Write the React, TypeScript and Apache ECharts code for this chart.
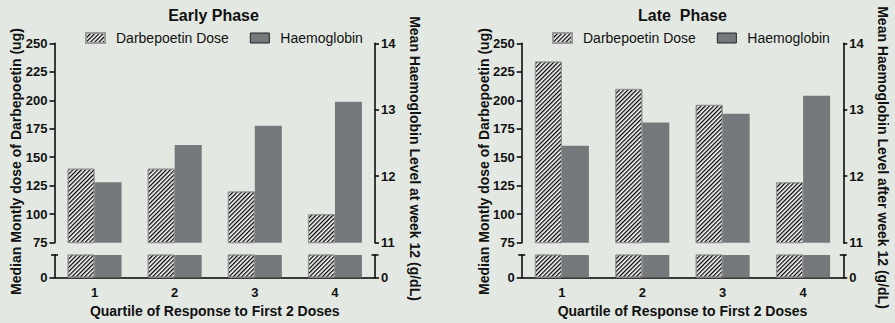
import React, { useEffect, useRef } from "react";
import * as echarts from "echarts";

const categories = ["1", "2", "3", "4"];
const earlyDose = [140, 140, 120, 100];
const earlyHb = [11.91, 12.47, 12.76, 13.12];
const lateDose = [234, 210, 196, 128];
const lateHb = [12.46, 12.81, 12.94, 13.21];
const doseTicks = { min: 75, max: 250, interval: 25 };
const hbTicks = { min: 11, max: 14, interval: 1 };

const FONT = "'Liberation Sans', Arial, Helvetica, sans-serif";
const INK = "#111";
const GREY = "#76797b";
const BG = "#e3e8e2";

const hatch = {
  symbol: "rect",
  symbolSize: 1.5,
  color: "#000",
  dashArrayX: [1, 0],
  dashArrayY: [1, 2],
  rotation: -Math.PI / 4,
};

export default function App() {
  const ref = useRef<HTMLDivElement>(null);
  useEffect(() => {
    if (!ref.current) return;
    const chart = echarts.init(ref.current, null, { renderer: "svg" });

    const panels = [
      { left: 54.5, width: 320.5, dose: earlyDose, hb: earlyHb, title: "Early Phase", rightName: "Mean Haemoglobin Level at week 12 (g/dL)", legendLeft: 85, titleX: 213.5, leftNameX: 16, rightNameX: 415, rightNameY: 158.5 },
      { left: 521.7, width: 321.6, dose: lateDose, hb: lateHb, title: "Late  Phase", rightName: "Mean Haemoglobin Level after week 12 (g/dL)", legendLeft: 552, titleX: 682.5, leftNameX: 483.5, rightNameX: 883, rightNameY: 157.5 },
    ];
    const upperTop = 43.3, upperH = 199.4, lowerTop = 255, lowerH = 22.5;

    const grid: any[] = [], xAxis: any[] = [], yAxis: any[] = [], series: any[] = [], graphic: any[] = [], legend: any[] = [];
    const lineStyle = { color: "#000", width: 1.5 };
    const labelStyle = { color: INK, fontSize: 13, fontWeight: "bold", fontFamily: FONT };

    panels.forEach((p, pi) => {
      const gU = pi * 2, gL = pi * 2 + 1;
      grid.push({ left: p.left, width: p.width, top: upperTop, height: upperH });
      grid.push({ left: p.left, width: p.width, top: lowerTop, height: lowerH });
      xAxis.push({ type: "category", gridIndex: gU, data: categories, show: false });
      xAxis.push({
        type: "category", gridIndex: gL, data: categories,
        axisLine: { lineStyle },
        axisTick: { alignWithLabel: true, length: 5, lineStyle },
        axisLabel: { ...labelStyle, margin: 8 },
      });
      yAxis.push({
        type: "value", gridIndex: gU, position: "left", ...doseTicks,
        axisLine: { show: true, lineStyle }, axisTick: { show: true, length: 5, lineStyle },
        axisLabel: { ...labelStyle, margin: 7 }, splitLine: { show: false },
      });
      yAxis.push({
        type: "value", gridIndex: gU, position: "right", ...hbTicks,
        axisLine: { show: true, lineStyle }, axisTick: { show: true, length: 4, lineStyle },
        axisLabel: { ...labelStyle, margin: 6 }, splitLine: { show: false },
      });
      yAxis.push({
        type: "value", gridIndex: gL, position: "left", min: 0, max: 10, interval: 10,
        axisLine: { show: true, lineStyle }, axisTick: { show: true, length: 5, lineStyle, customValues: [0] },
        axisLabel: { ...labelStyle, margin: 7, customValues: [0] }, splitLine: { show: false },
      });
      yAxis.push({
        type: "value", gridIndex: gL, position: "right", min: 0, max: 1, interval: 1,
        axisLine: { show: true, lineStyle }, axisTick: { show: true, length: 4, lineStyle, customValues: [0] },
        axisLabel: { ...labelStyle, margin: 6, customValues: [0] }, splitLine: { show: false },
      });
      [gU, gL].forEach((g) => {
        series.push({
          type: "bar", name: "Darbepoetin Dose", xAxisIndex: g, yAxisIndex: g * 2,
          data: p.dose, barWidth: 27, barGap: "0%", clip: true,
          itemStyle: { color: "#fff", borderColor: "#9a9a9a", borderWidth: 1, decal: hatch },
          emphasis: { disabled: true },
        });
        series.push({
          type: "bar", name: "Haemoglobin", xAxisIndex: g, yAxisIndex: g * 2 + 1,
          data: p.hb, barWidth: 27, barGap: "0%", clip: true,
          itemStyle: { color: GREY },
          emphasis: { disabled: true },
        });
      });
      legend.push({
        left: p.legendLeft, top: 31, padding: 0, itemWidth: 19, itemHeight: 10, itemGap: 21, icon: "rect",
        data: [
          { name: "Darbepoetin Dose" },
          { name: "Haemoglobin", itemStyle: { borderColor: "#222", borderWidth: 1 } },
        ],
        textStyle: { fontSize: 14, fontFamily: FONT, color: INK, padding: [0, 0, 0, 6] },
      });
      const R = p.left + p.width;
      [p.left, R].forEach((x) => {
        graphic.push({ type: "line", shape: { x1: x - 3.5, y1: lowerTop, x2: x + 3.5, y2: lowerTop }, style: { stroke: "#000", lineWidth: 1.5 } });
      });
      const textBase = { fill: INK, fontFamily: FONT, fontWeight: "bold", align: "center", verticalAlign: "middle" };
      graphic.push({ type: "text", x: p.titleX, y: 15.5, style: { ...textBase, text: p.title, fontSize: 16 } });
      graphic.push({ type: "text", x: p.left + p.width / 2, y: 311, style: { ...textBase, text: "Quartile of Response to First 2 Doses", fontSize: 14 } });
      graphic.push({ type: "text", x: p.leftNameX, y: 161.5, rotation: Math.PI / 2, style: { ...textBase, text: "Median Montly dose of Darbepoetin (ug)", fontSize: 14 } });
      graphic.push({ type: "text", x: p.rightNameX, y: p.rightNameY, rotation: -Math.PI / 2, style: { ...textBase, text: p.rightName, fontSize: 14 } });
    });

    chart.setOption({
      animation: false,
      backgroundColor: BG,
      textStyle: { fontFamily: FONT },
      grid, xAxis, yAxis, series, legend, graphic,
    });
    return () => chart.dispose();
  }, []);
  return (
    <div
      ref={ref}
      style={{ position: "fixed", left: 0, top: 0, width: 895, height: 323 }}
    />
  );
}
